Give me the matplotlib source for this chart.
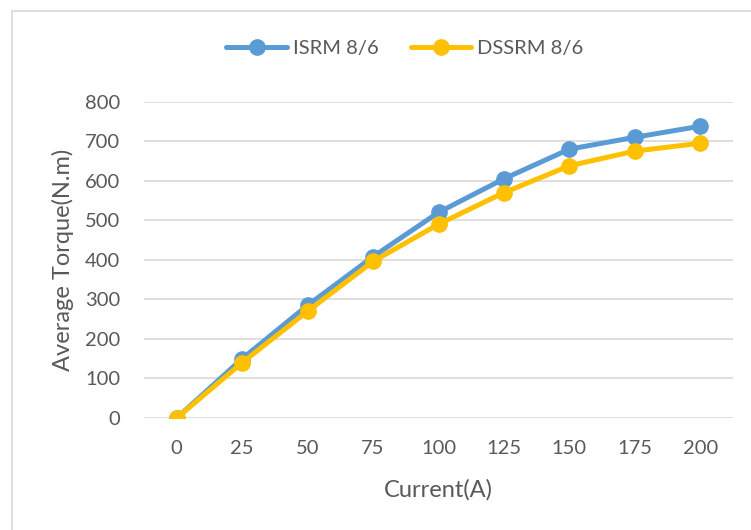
import matplotlib.pyplot as plt
from matplotlib.patches import Rectangle

# average torque vs phase current
current = [0, 25, 50, 75, 100, 125, 150, 175, 200]
isrm = [0, 150, 285, 408, 520, 605, 680, 710, 738]
dssrm = [0, 140, 270, 396, 490, 570, 638, 675, 695]

plt.rcParams['font.family'] = ['Lato', 'DejaVu Sans']
txt = '#595959'

fig = plt.figure(figsize=(7.51, 5.30), dpi=100)
# chart frame (right/bottom edges fall off the page)
fig.patches.append(Rectangle((12/751, -0.1), 1.2, (530-11)/530 + 0.1,
                             transform=fig.transFigure, fill=False,
                             edgecolor='#d9d9d9', linewidth=1.2))

ax = fig.add_axes([144/751, 112/530, (733-144)/751, (418-101.7)/530])
ax.plot(current, isrm, color='#5B9BD5', lw=3.6, marker='o', ms=11,
        label='ISRM 8/6', solid_capstyle='round', zorder=3)
ax.plot(current, dssrm, color='#FFC000', lw=3.6, marker='o', ms=11,
        label='DSSRM 8/6', solid_capstyle='round', zorder=4)

ax.set_xlim(-12.5, 212.5)
ax.set_ylim(0, 800)
ax.set_xticks(current)
ax.set_yticks(range(0, 801, 100))
ax.grid(axis='y', color='#d9d9d9', lw=1.2)
ax.set_axisbelow(True)
for s in ax.spines.values():
    s.set_visible(False)
ax.tick_params(length=0, labelsize=14.5, colors=txt)
ax.tick_params(axis='x', pad=16)
ax.tick_params(axis='y', pad=17)

ax.set_xlabel('Current(A)', fontsize=17, color=txt)
ax.set_ylabel('Average Torque(N.m)', fontsize=17, color=txt)
ax.xaxis.set_label_coords(0.5, -(490 - 418) / (418 - 101.7), transform=ax.transAxes)
ax.xaxis.label.set_va('center')
ax.yaxis.set_label_coords(-(144 - 63) / (733 - 144), 0.5, transform=ax.transAxes)
ax.yaxis.label.set_va('center')

fig.legend(loc='center', bbox_to_anchor=(405/751, 1 - 48/530), ncol=2,
           frameon=False, fontsize=14.5, labelcolor=txt, handlelength=3.0,
           handletextpad=0.3, columnspacing=1.6)

fig.savefig('out.png', dpi=100)
